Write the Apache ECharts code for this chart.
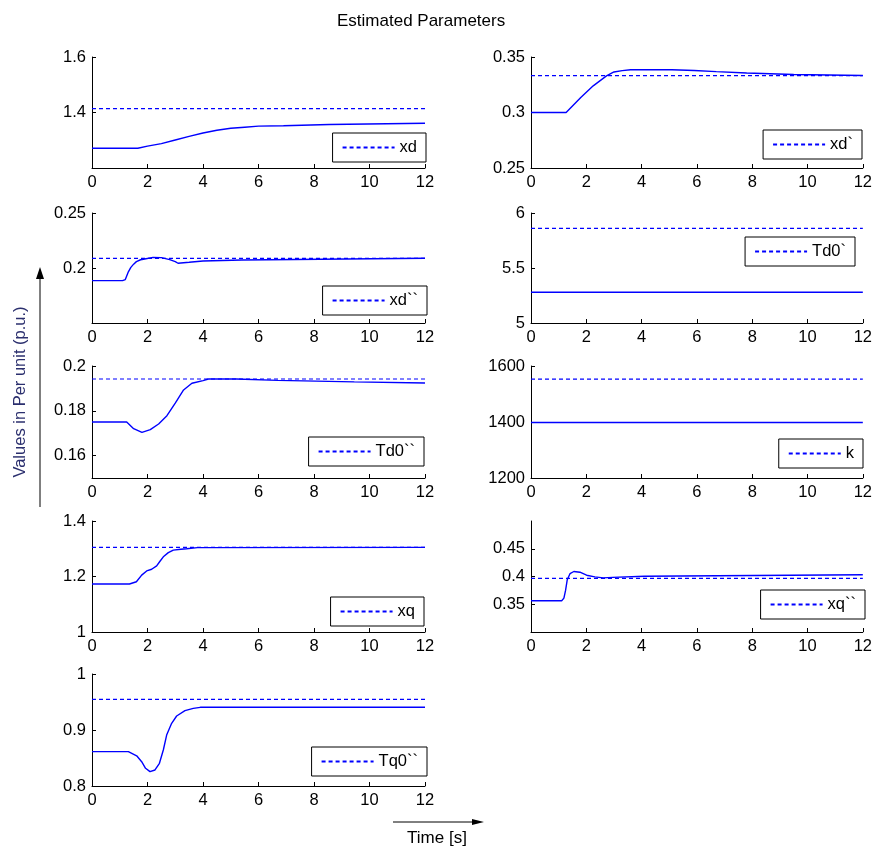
<!DOCTYPE html>
<html>
<head>
<meta charset="utf-8">
<title>Estimated Parameters</title>
<script src="https://cdn.jsdelivr.net/npm/echarts@6/dist/echarts.min.js"></script>
<style>
  html, body { margin: 0; padding: 0; background: #fff; }
  #chart { width: 875px; height: 851px; }
</style>
</head>
<body>
<div id="chart"></div>
<script>
// ---- Data: estimated parameter trajectories (solid) and true values (dashed) ----
const parameterNames = ['xd', 'xd`', 'xd``', 'Td0`', 'Td0``', 'k', 'xq', 'xq``', 'Tq0``'];
const timeRange = [0, 12];
const timeTicks = [0, 2, 4, 6, 8, 10, 12];

// xd
const timeXd = [0, 1.65, 2.0, 2.5, 3.0, 3.5, 4.0, 4.5, 5.0, 5.5, 6.0, 6.9, 6.95, 8.55, 8.6, 12];
const estXd  = [1.271, 1.271, 1.279, 1.288, 1.301, 1.314, 1.326, 1.336, 1.343, 1.347, 1.351, 1.352, 1.357, 1.357, 1.361, 1.361];
const trueXd = 1.414;

// xd`
const timeXdP = [0, 1.27, 1.8, 2.25, 2.73, 3.0, 3.3, 3.6, 5.1, 5.15, 5.9, 5.95, 6.7, 6.75, 7.8, 7.85, 9.5, 9.55, 12];
const estXdP  = [0.3, 0.3, 0.3135, 0.324, 0.333, 0.3365, 0.3377, 0.3385, 0.3385, 0.3378, 0.3378, 0.3368, 0.3368, 0.3356, 0.3356, 0.3343, 0.3343, 0.3333, 0.3333];
const trueXdP = 0.3333;

// xd``
const timeXdPP = [0, 1.1, 1.15, 1.2, 1.3, 1.4, 1.5, 1.6, 1.75, 1.9, 2.2, 2.5, 2.8, 3.0, 3.1, 3.3, 3.5, 4.0, 5.4, 5.45, 12];
const estXdPP  = [0.1885, 0.1885, 0.1875, 0.1895, 0.196, 0.2006, 0.2035, 0.2058, 0.2075, 0.2082, 0.2097, 0.2094, 0.2076, 0.2058, 0.2043, 0.2048, 0.2052, 0.2064, 0.2073, 0.2088, 0.2088];
const trueXdPP = 0.2088;

// Td0`
const timeTd0P = [0, 12];
const estTd0P  = [5.279, 5.279];
const trueTd0P = 5.861;

// Td0``
const timeTd0PP = [0, 1.25, 1.5, 1.8, 2.1, 2.4, 2.7, 3.0, 3.3, 3.6, 4.0, 4.2, 5.2, 5.25, 6.7, 6.75, 9.45, 9.5, 12];
const estTd0PP  = [0.175, 0.175, 0.172, 0.1704, 0.1716, 0.1741, 0.1778, 0.1834, 0.1893, 0.1923, 0.1935, 0.1942, 0.1942, 0.1936, 0.1936, 0.1929, 0.1929, 0.1924, 0.1924];
const trueTd0PP = 0.1942;

// k
const timeK = [0, 12];
const estK  = [1398, 1398];
const trueK = 1553;

// xq
const timeXq = [0, 1.35, 1.6, 1.79, 1.97, 2.15, 2.33, 2.45, 2.57, 2.75, 2.93, 3.2, 3.41, 3.8, 12];
const estXq  = [1.173, 1.173, 1.181, 1.205, 1.22, 1.226, 1.238, 1.255, 1.271, 1.286, 1.295, 1.298, 1.3, 1.304, 1.305];
const trueXq = 1.305;

// xq``
const timeXqPP = [0, 1.11, 1.19, 1.25, 1.31, 1.41, 1.55, 1.77, 2.01, 2.31, 2.61, 2.95, 3.0, 4.1, 4.15, 12];
const estXqPP  = [0.3564, 0.3564, 0.361, 0.375, 0.394, 0.405, 0.409, 0.4077, 0.4023, 0.3994, 0.3976, 0.3985, 0.4005, 0.4005, 0.4032, 0.4032];
const trueXqPP = 0.3967;

// Tq0``
const timeTq0PP = [0, 1.31, 1.61, 1.79, 1.93, 2.09, 2.27, 2.43, 2.57, 2.69, 2.87, 3.05, 3.35, 3.65, 3.9, 12];
const estTq0PP  = [0.8613, 0.8613, 0.854, 0.8434, 0.8316, 0.8256, 0.8286, 0.8405, 0.8643, 0.891, 0.912, 0.925, 0.9345, 0.9387, 0.9405, 0.9405];
const trueTq0PP = 0.9548;

// Y-axis ranges and labelled tick values per panel
const yRanges = [[1.2, 1.6], [0.25, 0.35], [0.15, 0.25], [5, 6], [0.15, 0.2], [1200, 1600], [1, 1.4], [0.3, 0.5], [0.8, 1]];
const yTicks = [
  [1.4, 1.6],
  [0.25, 0.3, 0.35],
  [0.2, 0.25],
  [5, 5.5, 6],
  [0.16, 0.18, 0.2],
  [1200, 1400, 1600],
  [1, 1.2, 1.4],
  [0.35, 0.4, 0.45],
  [0.8, 0.9, 1]
];

const estTimes = [timeXd, timeXdP, timeXdPP, timeTd0P, timeTd0PP, timeK, timeXq, timeXqPP, timeTq0PP];
const estValues = [estXd, estXdP, estXdPP, estTd0P, estTd0PP, estK, estXq, estXqPP, estTq0PP];
const trueValues = [trueXd, trueXdP, trueXdPP, trueTd0P, trueTd0PP, trueK, trueXq, trueXqPP, trueTq0PP];

// ---- Layout: subplot boxes [left, top, width, height] and legend boxes [rightEdge, top] ----
const gridBoxes = [
  [92, 57, 333, 111], [531, 57, 332, 111],
  [92, 213, 333, 110], [531, 213, 332, 110],
  [92, 366, 333, 112], [531, 366, 332, 112],
  [92, 521, 333, 111], [531, 521, 332, 111],
  [92, 674, 333, 112]
];
const legendBoxes = [
  [426, 133], [862, 130],
  [427, 286], [855, 237],
  [424, 437], [863, 439],
  [424, 597], [865, 590],
  [427, 747]
];

const FONT = '"Liberation Sans", Arial, Helvetica, sans-serif';
const BLUE = '#0000ff';
const AXIS = '#000000';
const W = 875;

function fmt(v) { return String(parseFloat(Number(v).toFixed(4))); }

const grids = [], xAxes = [], yAxes = [], series = [], legends = [];

parameterNames.forEach((name, i) => {
  const g = gridBoxes[i];
  grids.push({ left: g[0], top: g[1], width: g[2], height: g[3], containLabel: false });

  xAxes.push({
    gridIndex: i, type: 'value', min: timeRange[0], max: timeRange[1], interval: 2,
    axisLine: { show: true, onZero: false, lineStyle: { color: AXIS, width: 1 } },
    axisTick: { show: true, inside: true, length: 4, lineStyle: { color: AXIS }, customValues: timeTicks },
    axisLabel: { fontSize: 16.5, fontFamily: FONT, color: '#000', margin: 6, customValues: timeTicks, formatter: fmt },
    splitLine: { show: false }
  });

  yAxes.push({
    gridIndex: i, type: 'value', min: yRanges[i][0], max: yRanges[i][1],
    axisLine: { show: true, onZero: false, lineStyle: { color: AXIS, width: 1 } },
    axisTick: { show: true, inside: true, length: 4, lineStyle: { color: AXIS }, customValues: yTicks[i] },
    axisLabel: { fontSize: 16.5, fontFamily: FONT, color: '#000', margin: 6, customValues: yTicks[i], formatter: fmt },
    splitLine: { show: false }
  });

  // estimated trajectory (solid)
  series.push({
    name: name + ' estimate', type: 'line', xAxisIndex: i, yAxisIndex: i,
    data: estTimes[i].map((t, k) => [t, estValues[i][k]]),
    symbol: 'none', smooth: false, silent: true,
    lineStyle: { color: BLUE, width: 1.4 }, z: 3
  });
  // true value (dashed)
  series.push({
    name: name, type: 'line', xAxisIndex: i, yAxisIndex: i,
    data: [[timeRange[0], trueValues[i]], [timeRange[1], trueValues[i]]],
    symbol: 'none', silent: true, color: BLUE,
    lineStyle: { color: BLUE, width: 1.2, type: [4, 3] }, z: 2
  });

  const lb = legendBoxes[i];
  legends.push({
    data: [name], right: W - lb[0], top: lb[1],
    orient: 'horizontal', selectedMode: false,
    backgroundColor: '#fff', borderColor: '#000', borderWidth: 1, borderRadius: 0,
    padding: [6, 9, 6, 9], itemWidth: 52, itemHeight: 18, itemGap: 0,
    // legend key is the dashed line only
    itemStyle: { opacity: 0 },
    textStyle: { fontSize: 16.5, fontFamily: FONT, color: '#000' }
  });
});

const chart = echarts.init(document.getElementById('chart'), null, { renderer: 'canvas' });
chart.setOption({
  animation: false,
  backgroundColor: '#fff',
  title: {
    text: 'Estimated Parameters', left: 332, top: 8,
    textStyle: { fontSize: 17, fontWeight: 'normal', fontFamily: FONT, color: '#000' }
  },
  grid: grids,
  xAxis: xAxes,
  yAxis: yAxes,
  legend: legends,
  series: series,
  graphic: [
    // vertical axis-name arrow
    { type: 'line', shape: { x1: 40, y1: 507, x2: 40, y2: 275 }, style: { stroke: '#000', lineWidth: 1 } },
    { type: 'polygon', shape: { points: [[40, 267], [36, 279], [44, 279]] }, style: { fill: '#000' } },
    // horizontal axis-name arrow
    { type: 'line', shape: { x1: 393, y1: 822, x2: 476, y2: 822 }, style: { stroke: '#000', lineWidth: 1 } },
    { type: 'polygon', shape: { points: [[484, 822], [472, 819], [472, 825]] }, style: { fill: '#000' } },
    {
      type: 'text', x: 20, y: 392, rotation: Math.PI / 2,
      style: { text: 'Values in Per unit (p.u.)', align: 'center', verticalAlign: 'middle', fontSize: 16.5, fontFamily: FONT, fill: '#2b2f6e' }
    },
    {
      type: 'text', x: 437, y: 838,
      style: { text: 'Time [s]', align: 'center', verticalAlign: 'middle', fontSize: 17, fontFamily: FONT, fill: '#000' }
    }
  ]
});
</script>
</body>
</html>
